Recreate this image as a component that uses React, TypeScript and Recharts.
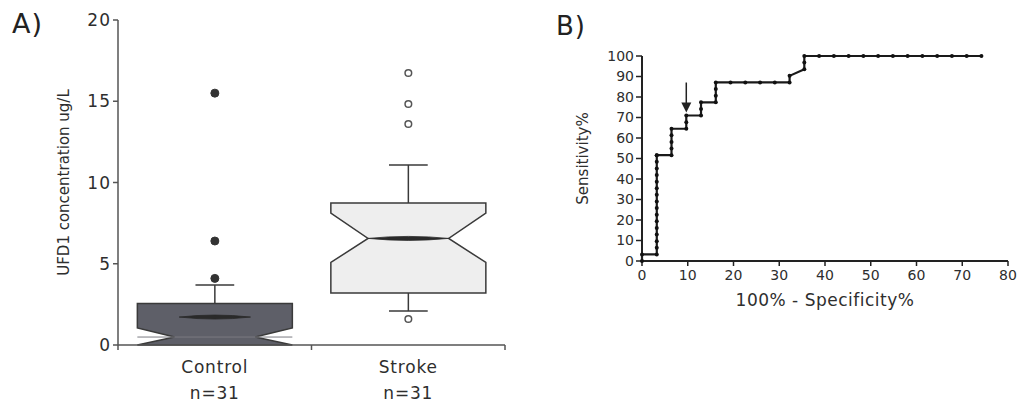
import React from 'react';
import {
  ComposedChart, Bar, XAxis, YAxis, LineChart, Line, ReferenceDot,
} from 'recharts';

// ---------- Panel A: box plot data ----------
const groups = ['Control', 'Stroke'];
const groupN = ['n=31', 'n=31'];
const q1 = [0, 3.2];
const q3 = [2.55, 8.74];
const median = [0.49, 6.56];
const mean = [1.72, 6.56];
const notchLo = [0, 5.08];
const notchHi = [1.05, 8.12];
const whiskerLo = [0, 2.09];
const whiskerHi = [3.7, 11.08];
const outliers = [
  [4.1, 6.4, 15.5],
  [1.6, 13.6, 14.83, 16.74],
];
const boxFill = ['#5e5f68', '#eeeeee'];
const outlierFilled = [true, false];
const yTicksA = [0, 5, 10, 15, 20];

// ---------- Panel B: ROC data ----------
const rocFpr = [
  0, 0, 3.23, 3.23, 3.23, 3.23, 3.23, 3.23, 3.23, 3.23, 3.23, 3.23, 3.23, 3.23, 3.23, 3.23, 3.23, 3.23, 3.23,
  6.45, 6.45, 6.45, 6.45, 6.45,
  9.68, 9.68, 9.68,
  12.9, 12.9, 12.9,
  16.13, 16.13, 16.13, 16.13,
  19.35, 22.58, 25.81, 29.03, 32.26,
  32.26, 35.48, 35.48, 35.48,
  38.71, 41.94, 45.16, 48.39, 51.61, 54.84, 58.06, 61.29, 64.52, 67.74, 70.97, 74.19,
];
const rocTpr = [
  0, 3.23, 3.23, 6.45, 9.68, 12.9, 16.13, 19.35, 22.58, 25.81, 29.03, 32.26, 35.48, 38.71, 41.94, 45.16, 48.39, 51.61, 51.61,
  51.61, 54.84, 58.06, 61.29, 64.52,
  64.52, 67.74, 70.97,
  70.97, 74.19, 77.42,
  77.42, 80.65, 83.87, 87.1,
  87.1, 87.1, 87.1, 87.1, 87.1,
  90.32, 93.55, 96.77, 100,
  100, 100, 100, 100, 100, 100, 100, 100, 100, 100, 100, 100,
];
const arrowPoint = { fpr: 9.68, tpr: 70.97 };
const xTicksB = [0, 10, 20, 30, 40, 50, 60, 70, 80];
const yTicksB = [0, 10, 20, 30, 40, 50, 60, 70, 80, 90, 100];

const boxData = groups.map((g, i) => ({
  group: g,
  n: groupN[i],
  q1: q1[i],
  q3: q3[i],
  median: median[i],
  mean: mean[i],
  notchLo: notchLo[i],
  notchHi: notchHi[i],
  whiskerLo: whiskerLo[i],
  whiskerHi: whiskerHi[i],
  outliers: outliers[i],
  fill: boxFill[i],
  filled: outlierFilled[i],
}));

const rocData = rocFpr.map((f, i) => ({ fpr: f, tpr: rocTpr[i] }));

const FONT = '"DejaVu Sans", Verdana, sans-serif';
const TXT = '#2e2e2e';
const AX = '#555';

const BoxShape = (props: any) => {
  const { x, y, width, height, payload } = props;
  const base = y + height;
  const k = height / payload.q3;
  const py = (v: number) => base - v * k;
  const L = x;
  const R = x + width;
  const cx = x + width / 2;
  const neckHalf = width * 0.26;
  const lensHalf = payload.filled ? width * 0.23 : neckHalf;
  const capHalf = width * 0.125;
  const pts = [
    [L, py(payload.q3)],
    [R, py(payload.q3)],
    [R, py(payload.notchHi)],
    [cx + neckHalf, py(payload.median)],
    [R, py(payload.notchLo)],
    [R, py(payload.q1)],
    [L, py(payload.q1)],
    [L, py(payload.notchLo)],
    [cx - neckHalf, py(payload.median)],
    [L, py(payload.notchHi)],
  ];
  const d = 'M' + pts.map((p) => `${p[0]},${p[1]}`).join(' L') + ' Z';
  const my = py(payload.mean);
  const lens = `M${cx - lensHalf},${my} Q${cx},${my - 4} ${cx + lensHalf},${my} Q${cx},${my + 4} ${cx - lensHalf},${my} Z`;
  return (
    <g>
      <line x1={cx} x2={cx} y1={py(payload.q3)} y2={py(payload.whiskerHi)} stroke="#3a3a3a" strokeWidth={1.5} />
      <line x1={cx - capHalf} x2={cx + capHalf} y1={py(payload.whiskerHi)} y2={py(payload.whiskerHi)} stroke="#3a3a3a" strokeWidth={1.5} />
      {payload.whiskerLo < payload.q1 && (
        <g>
          <line x1={cx} x2={cx} y1={py(payload.q1)} y2={py(payload.whiskerLo)} stroke="#3a3a3a" strokeWidth={1.5} />
          <line x1={cx - capHalf} x2={cx + capHalf} y1={py(payload.whiskerLo)} y2={py(payload.whiskerLo)} stroke="#3a3a3a" strokeWidth={1.5} />
        </g>
      )}
      <path d={d} fill={payload.fill} stroke="#3a3a3a" strokeWidth={1.5} strokeLinejoin="miter" />
      {payload.filled && (
        <line x1={L} x2={R} y1={py(payload.median)} y2={py(payload.median)} stroke="#7a7b82" strokeWidth={1} />
      )}
      <path d={lens} fill="#2a2a2a" stroke="#2a2a2a" strokeWidth={0.8} />
      {payload.outliers.map((o: number, i: number) =>
        payload.filled ? (
          <circle key={i} cx={cx} cy={py(o)} r={4} fill="#333" stroke="#333" />
        ) : (
          <circle key={i} cx={cx} cy={py(o)} r={3.3} fill="#fff" stroke="#555" strokeWidth={1.5} />
        )
      )}
    </g>
  );
};

const GroupTick = (props: any) => {
  const { x, y, payload, index } = props;
  const row = boxData[index] || boxData[0];
  const off = payload.offset || 0;
  return (
    <g>
      {index === 0 && off > 0 && (
        <line x1={x - off} x2={x - off} y1={y - 8} y2={y - 3} stroke={AX} strokeWidth={1.5} />
      )}
      {off > 0 && <line x1={x + off} x2={x + off} y1={y - 8} y2={y - 3} stroke={AX} strokeWidth={1.5} />}
      <text x={x} y={y} textAnchor="middle" fontSize={17} fill={TXT} fontFamily={FONT} letterSpacing={0.8}>
        <tspan x={x} dy={20}>{payload.value}</tspan>
        <tspan x={x} dy={26}>{row.n}</tspan>
      </text>
    </g>
  );
};

const ArrowShape = (props: any) => {
  const { cx, cy } = props;
  return (
    <g>
      <line x1={cx} x2={cx} y1={cy - 33} y2={cy - 12} stroke="#222" strokeWidth={1.5} />
      <path d={`M${cx - 5},${cy - 13} L${cx + 5},${cy - 13} L${cx},${cy - 3} Z`} fill="#222" />
    </g>
  );
};

export default function App() {
  return (
    <div style={{ position: 'absolute', left: 0, top: 0, width: 1017, height: 402, background: '#fff', fontFamily: FONT }}>
      <div style={{ position: 'absolute', left: 12, top: 8, fontSize: 27, color: '#222', fontFamily: FONT, letterSpacing: 1 }}>A)</div>
      <div style={{ position: 'absolute', left: 556, top: 11, fontSize: 26, color: '#222', fontFamily: FONT, letterSpacing: 1 }}>B)</div>

      <div style={{ position: 'absolute', left: 0, top: 0 }}>
        <ComposedChart
          width={520}
          height={402}
          data={boxData}
          margin={{ top: 20, right: 15, left: 0, bottom: 0 }}
          barCategoryGap="10%"
        >
          <XAxis
            dataKey="group"
            type="category"
            height={57}
            axisLine={{ stroke: AX, strokeWidth: 1.5 }}
            tickLine={{ stroke: 'none' }}
            tickSize={6}
            tick={<GroupTick />}
            interval={0}
          />
          <XAxis xAxisId="top" orientation="top" dataKey="group" height={0} tick={false} tickLine={false}
            axisLine={{ stroke: AX, strokeWidth: 1.5 }} />
          <YAxis
            domain={[0, 20]}
            ticks={yTicksA}
            width={118}
            tickSize={5}
            tick={{ fontSize: 17, fill: TXT, fontFamily: FONT, letterSpacing: 1 }}
            axisLine={{ stroke: AX, strokeWidth: 1.5 }}
            tickLine={{ stroke: AX, strokeWidth: 1.5 }}
            label={{ value: 'UFD1 concentration ug/L', angle: -90, position: 'center', dx: 5, style: { fontSize: 15, fill: TXT, fontFamily: FONT } }}
          />
          <YAxis yAxisId="right" orientation="right" width={0} domain={[0, 20]} tick={false} tickLine={false}
            axisLine={{ stroke: AX, strokeWidth: 1.5 }} />
          <Bar dataKey="q3" shape={<BoxShape />} isAnimationActive={false} />
        </ComposedChart>
      </div>

      <div style={{ position: 'absolute', left: 540, top: 0 }}>
        <LineChart
          width={477}
          height={402}
          data={rocData}
          margin={{ top: 56, right: 9, left: 0, bottom: 0 }}
        >
          <XAxis
            dataKey="fpr"
            type="number"
            domain={[0, 80]}
            ticks={xTicksB}
            height={141}
            tickSize={5}
            tickMargin={4}
            axisLine={{ stroke: '#222', strokeWidth: 2 }}
            tickLine={{ stroke: '#222', strokeWidth: 1.5 }}
            tick={{ fontSize: 14, fill: TXT, fontFamily: FONT }}
            label={{ value: '100% - Specificity%', position: 'insideTop', offset: 33, style: { fontSize: 17, fill: TXT, fontFamily: FONT, letterSpacing: 0.5 } }}
          />
          <YAxis
            dataKey="tpr"
            domain={[0, 100]}
            ticks={yTicksB}
            width={102}
            tickSize={6}
            tickMargin={2}
            interval={0}
            axisLine={{ stroke: '#222', strokeWidth: 2 }}
            tickLine={{ stroke: '#222', strokeWidth: 1.5 }}
            tick={{ fontSize: 14, fill: TXT, fontFamily: FONT }}
            label={{ value: 'Sensitivity%', angle: -90, position: 'center', dx: -8, style: { fontSize: 15, fill: TXT, fontFamily: FONT } }}
          />
          <Line
            type="linear"
            dataKey="tpr"
            stroke="#1a1a1a"
            strokeWidth={2.2}
            dot={{ r: 2, fill: '#111', stroke: 'none' }}
            isAnimationActive={false}
          />
          <ReferenceDot x={arrowPoint.fpr} y={arrowPoint.tpr} shape={<ArrowShape />} ifOverflow="visible" />
        </LineChart>
      </div>
    </div>
  );
}
